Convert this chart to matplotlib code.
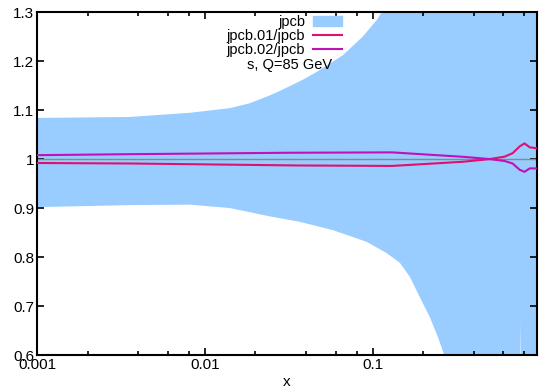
import numpy as np
import matplotlib.pyplot as plt
from matplotlib.patches import Patch
from matplotlib.lines import Line2D
from matplotlib.ticker import FixedLocator, NullFormatter

plt.rcParams['font.family'] = ['Liberation Sans', 'DejaVu Sans']

# error band of jpcb (ratio to central)
hi_x = [0.001, 0.00358, 0.00814, 0.0141, 0.0185, 0.0244, 0.0291, 0.0383, 0.0464,
        0.0663, 0.0871, 0.1056, 0.113, 0.13, 0.2, 0.5, 0.95]
hi_y = [1.084, 1.086, 1.0945, 1.104, 1.114, 1.130, 1.142, 1.162, 1.178,
        1.212, 1.250, 1.284, 1.30, 1.34, 1.6, 2.0, 2.0]
lo_x = [0.001, 0.00358, 0.00814, 0.0141, 0.0244, 0.0367, 0.0578, 0.092, 0.121,
        0.145, 0.166, 0.19, 0.218, 0.244, 0.265, 0.3, 0.5, 0.745, 0.76, 0.775, 0.95]
lo_y = [0.902, 0.906, 0.907, 0.90, 0.883, 0.872, 0.855, 0.831, 0.808,
        0.788, 0.760, 0.719, 0.678, 0.637, 0.602, 0.5, 0.3, 0.3, 0.671, 0.3, 0.3]

# jpcb.01/jpcb
r01_x = [0.001, 0.0036, 0.035, 0.13, 0.343, 0.497, 0.61, 0.68, 0.75, 0.8, 0.86, 0.95]
r01_y = [0.992, 0.991, 0.987, 0.986, 0.9945, 1.0, 1.005, 1.012, 1.026, 1.032, 1.024, 1.022]
# jpcb.02/jpcb
r02_x = [0.001, 0.0036, 0.0307, 0.13, 0.343, 0.497, 0.61, 0.68, 0.75, 0.8, 0.86, 0.95]
r02_y = [1.008, 1.010, 1.0129, 1.0137, 1.0047, 1.0, 0.996, 0.991, 0.978, 0.974, 0.981, 0.981]

band_col = '#99ccff'
col01 = '#e0106e'
col02 = '#c010b8'

fig = plt.figure(figsize=(5.39, 3.91), dpi=100)
ax = fig.add_axes([0.0686, 0.092, 0.9277, 0.877])

# build the band polygon from both edges
poly_x = hi_x + lo_x[::-1]
poly_y = hi_y + lo_y[::-1]
ax.fill(poly_x, poly_y, color=band_col, lw=0, zorder=1)
ax.axhline(1.0, color='#888888', lw=1, zorder=2)
ax.plot(r01_x, r01_y, color=col01, lw=1.5, zorder=3)
ax.plot(r02_x, r02_y, color=col02, lw=1.5, zorder=3)

ax.set_xscale('log')
ax.set_xlim(0.001, 0.95)
ax.set_ylim(0.6, 1.3)
ax.set_xticks([0.001, 0.01, 0.1])
ax.set_xticklabels(['0.001', '0.01', '0.1'])
ax.xaxis.set_minor_locator(FixedLocator([m * d for d in [0.001, 0.01, 0.1] for m in [2, 4, 6, 8]]))
ax.xaxis.set_minor_formatter(NullFormatter())
ax.set_yticks([0.6, 0.7, 0.8, 0.9, 1.0, 1.1, 1.2, 1.3])
ax.set_yticklabels(['0.6', '0.7', '0.8', '0.9', '1', '1.1', '1.2', '1.3'])
ax.tick_params(which='both', direction='in', top=True, right=True, labelsize=11,
               width=1.2)
ax.tick_params(which='major', length=5, pad=2)
ax.tick_params(which='minor', length=3)
for s in ax.spines.values():
    s.set_linewidth(1.5)
ax.set_xlabel('x', fontsize=11, labelpad=2)

handles = [Patch(color=band_col), Line2D([], [], color=col01, lw=1.5),
           Line2D([], [], color=col02, lw=1.5)]
labels = ['jpcb', 'jpcb.01/jpcb', 'jpcb.02/jpcb']
ax.legend(handles, labels, loc='upper right', bbox_to_anchor=(0.63, 1.02),
          frameon=False, markerfirst=False, fontsize=10.5, labelspacing=0,
          handlelength=2.0, handletextpad=0.5, borderpad=0.2)
ax.text(0.59, 0.847, 's, Q=85 GeV', transform=ax.transAxes, ha='right',
        va='center', fontsize=10.5)

fig.savefig('out.png', dpi=100)
